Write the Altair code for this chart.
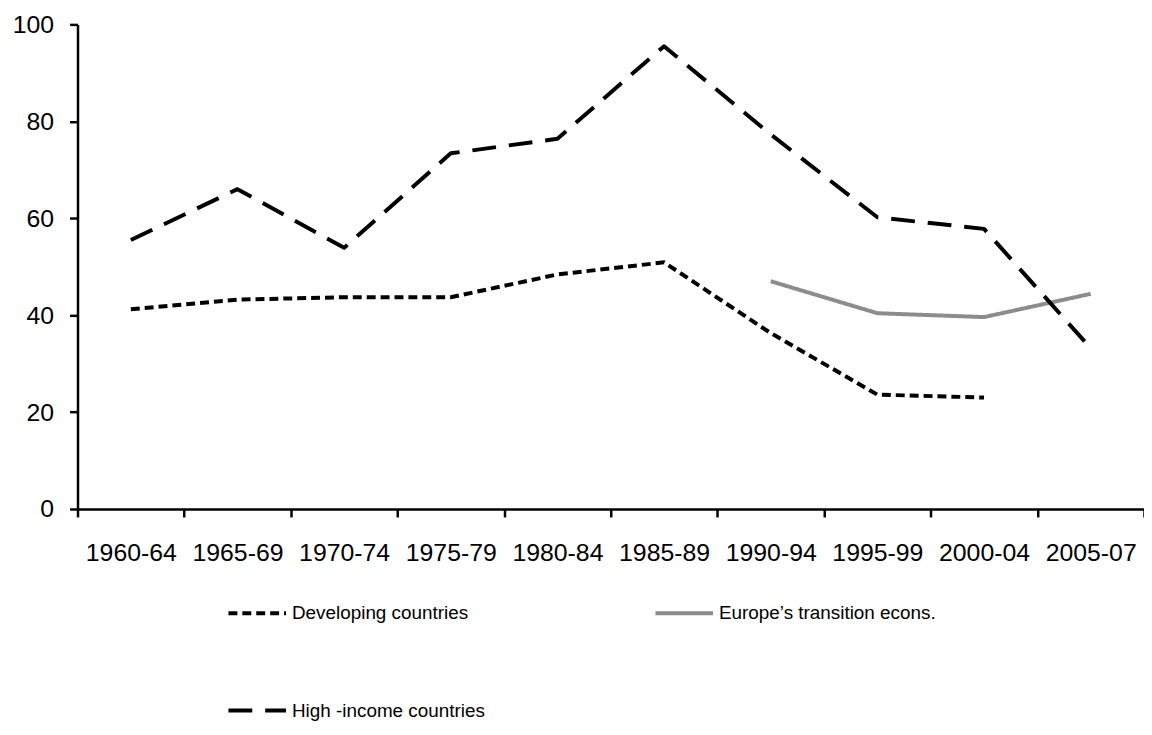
import altair as alt
import pandas as pd

periods = ["1960-64", "1965-69", "1970-74", "1975-79", "1980-84",
           "1985-89", "1990-94", "1995-99", "2000-04", "2005-07"]
developing = [41.2, 43.2, 43.7, 43.7, 48.4, 50.9, 36.3, 23.6, 23.0, None]
transition = [None, None, None, None, None, None, 47.0, 40.4, 39.6, 44.4]
high_income = [55.5, 66.0, 53.9, 73.4, 76.4, 95.5, 77.3, 60.2, 57.8, 33.2]
series_names = ["Developing countries", "Europe\u2019s transition econs.", "High -income countries"]
y_ticks = [0, 20, 40, 60, 80, 100]

rows = []
for name, vals in zip(series_names, [developing, transition, high_income]):
    for p, v in zip(periods, vals):
        if v is not None:
            rows.append({"period": p, "value": v, "series": name})
df = pd.DataFrame(rows)

FONT = "Liberation Sans"

legend = alt.Legend(
    title=None, orient="none", legendX=150, legendY=562, columns=2,
    direction="horizontal",
    symbolType="stroke", symbolSize=3364, symbolStrokeWidth=3.5,
    labelFont=FONT, labelFontSize=19, labelColor="black", labelLimit=400,
    labelOffset=4, columnPadding=163, rowPadding=57, padding=0,
)

chart = alt.Chart(df).mark_line(strokeJoin="round").encode(
    x=alt.X("period:N", sort=periods, bandPosition=0.5,
            scale=alt.Scale(type="band", domain=periods, paddingInner=0, paddingOuter=0),
            axis=alt.Axis(title=None, labelAngle=0, tickBand="extent", labelPadding=24)),
    y=alt.Y("value:Q", scale=alt.Scale(domain=[0, 100], nice=False),
            axis=alt.Axis(title=None, values=y_ticks, labelPadding=16)),
    color=alt.Color("series:N", scale=alt.Scale(domain=series_names,
                    range=["#000000", "#8c8c8c", "#000000"]), legend=legend),
    strokeDash=alt.StrokeDash("series:N", scale=alt.Scale(domain=series_names,
                    range=[[9, 5], [1, 0], [24, 13]]), legend=legend),
    strokeWidth=alt.StrokeWidth("series:N", scale=alt.Scale(domain=series_names,
                    range=[4, 4, 5]), legend=None),
    detail="series:N",
).properties(
    width=1074, height=488,
    autosize=alt.AutoSizeParams(type="none"),
    padding={"left": 70, "top": 14, "right": 0, "bottom": 213},
).configure_view(stroke=None).configure_axis(
    grid=False, labelFont=FONT, labelFontSize=25, labelColor="black",
    domainColor="black", domainWidth=2.5, tickColor="black", tickWidth=2.5,
    tickSize=8,
)

chart.save("out.html", embed_options={"renderer": "svg", "actions": False})
